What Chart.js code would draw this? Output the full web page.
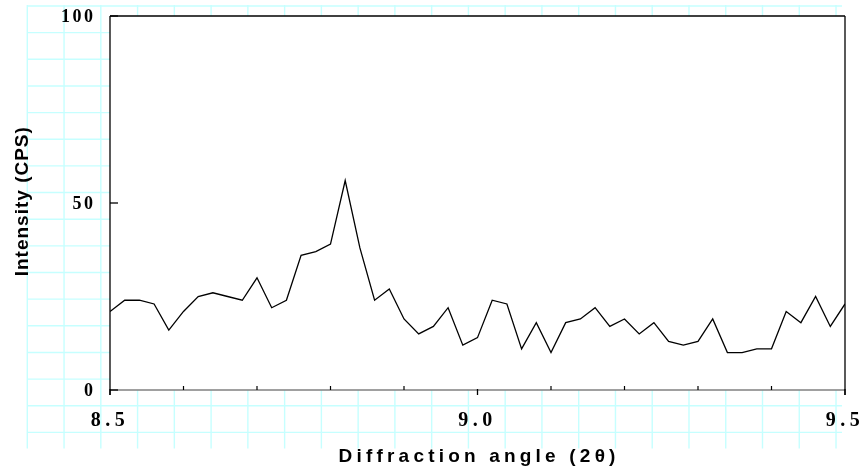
<!DOCTYPE html>
<html lang="en">
<head>
<meta charset="UTF-8">
<title>Diffraction angle</title>
<script src="https://cdn.jsdelivr.net/npm/chart.js"></script>
<style>
  html, body { margin: 0; padding: 0; background: #fff; }
  canvas { display: block; }
</style>
</head>
<body>
<canvas id="myChart" width="863" height="473"></canvas>
<script>
const ctx = document.getElementById('myChart');

const angulos = [8.50, 8.52, 8.54, 8.56, 8.58, 8.60, 8.62, 8.64, 8.66, 8.68,
                 8.70, 8.72, 8.74, 8.76, 8.78, 8.80, 8.82, 8.84, 8.86, 8.88,
                 8.90, 8.92, 8.94, 8.96, 8.98, 9.00, 9.02, 9.04, 9.06, 9.08,
                 9.10, 9.12, 9.14, 9.16, 9.18, 9.20, 9.22, 9.24, 9.26, 9.28,
                 9.30, 9.32, 9.34, 9.36, 9.38, 9.40, 9.42, 9.44, 9.46, 9.48, 9.50];
const intensidad = [21, 24, 24, 23, 16, 21, 25, 26, 25, 24,
                    30, 22, 24, 36, 37, 39, 56, 38, 24, 27,
                    19, 15, 17, 22, 12, 14, 24, 23, 11, 18,
                    10, 18, 19, 22, 17, 19, 15, 18, 13, 12,
                    13, 19, 10, 10, 11, 11, 21, 18, 25, 17, 23];

// Marcas de los ejes
const xTicks = [8.5, 9.0, 9.5];
const xTickLabels = ['8.5', '9.0', '9.5'];
const xMinorTicks = [8.6, 8.7, 8.8, 8.9, 9.1, 9.2, 9.3, 9.4];
const yTicks = [0, 50, 100];
const yTickLabels = ['0', '50', '100'];
const xTitle = 'Diffraction angle (2θ)';
const yTitle = 'Intensity (CPS)';

const linea = (c, x1, y1, x2, y2) => {
    c.beginPath();
    c.moveTo(x1, y1);
    c.lineTo(x2, y2);
    c.stroke();
};

// Papel cuadriculado de fondo + area blanca del grafico
const fondo = {
    id: 'fondo',
    beforeDraw(chart) {
        const c = chart.ctx;
        const a = chart.chartArea;
        c.save();
        c.fillStyle = '#fff';
        c.fillRect(0, 0, chart.width, chart.height);
        c.strokeStyle = '#c6ffff';
        c.lineWidth = 1.4;
        for (let i = 0; i <= 22; i++) {
            const x = 27.3 + i * 36.76;
            linea(c, x, 5, x, 448.5);
        }
        for (let j = 0; j <= 16; j++) {
            const y = 6 + j * 26.65;
            linea(c, 27, y, 842, y);
        }
        c.fillStyle = '#fff';
        c.fillRect(a.left, a.top, a.right - a.left, a.bottom - a.top);
        c.restore();
    }
};

// Marco, marcas y textos de los ejes
const ejes = {
    id: 'ejes',
    afterDraw(chart) {
        const c = chart.ctx;
        const a = chart.chartArea;
        const sx = chart.scales.x;
        const sy = chart.scales.y;
        c.save();

        // eje x en gris
        c.strokeStyle = '#808080';
        c.lineWidth = 1.5;
        linea(c, a.left, a.bottom, a.right, a.bottom);

        // marco negro (los lados bajan como marcas)
        c.strokeStyle = '#000';
        c.lineWidth = 1.3;
        linea(c, a.left, a.top, a.right, a.top);
        linea(c, a.left, a.top, a.left, a.bottom + 5);
        linea(c, a.right, a.top, a.right, a.bottom + 5);

        c.lineWidth = 1.2;
        xMinorTicks.forEach(v => {
            const x = sx.getPixelForValue(v);
            linea(c, x, a.bottom, x, a.bottom - 4);
        });
        c.lineWidth = 1.3;
        xTicks.forEach(v => {
            const x = sx.getPixelForValue(v);
            linea(c, x, a.bottom - 1, x, a.bottom + 5);
        });
        yTicks.forEach(v => {
            const y = sy.getPixelForValue(v);
            linea(c, a.left, y, a.left + 8, y);
        });

        // etiquetas
        c.fillStyle = '#000';
        c.font = 'bold 18px "Liberation Serif", "Times New Roman", serif';
        c.letterSpacing = '2.5px';
        c.textAlign = 'right';
        c.textBaseline = 'middle';
        yTicks.forEach((v, i) => {
            c.fillText(yTickLabels[i], a.left - 14.5, sy.getPixelForValue(v) + 1);
        });

        c.font = 'bold 20px "Liberation Serif", "Times New Roman", serif';
        c.letterSpacing = '4.5px';
        c.textAlign = 'center';
        c.textBaseline = 'alphabetic';
        xTicks.forEach((v, i) => {
            c.fillText(xTickLabels[i], sx.getPixelForValue(v), a.bottom + 36);
        });

        // titulos
        c.font = 'bold 19px "Liberation Sans", Arial, sans-serif';
        c.letterSpacing = '4.2px';
        c.fillText(xTitle, (a.left + a.right) / 2 + 1.6, 462);

        c.letterSpacing = '1px';
        c.translate(27.5, (a.top + a.bottom) / 2 - 1.8);
        c.rotate(-Math.PI / 2);
        c.fillText(yTitle, 0, 0);

        c.restore();
    }
};

new Chart(ctx, {
    type: 'line',
    data: {
        datasets: [{
            label: 'Intensity',
            data: angulos.map((ang, i) => ({ x: ang, y: intensidad[i] })),
            borderColor: '#000',
            borderWidth: 1.3,
            pointRadius: 0,
            tension: 0,
            fill: false
        }]
    },
    options: {
        responsive: false,
        animation: false,
        layout: {
            padding: { left: 110, top: 16, right: 18, bottom: 83 }
        },
        plugins: {
            legend: { display: false },
            tooltip: { enabled: false }
        },
        scales: {
            x: { type: 'linear', min: 8.5, max: 9.5, display: false },
            y: { min: 0, max: 100, display: false }
        }
    },
    plugins: [fondo, ejes]
});
</script>
</body>
</html>
